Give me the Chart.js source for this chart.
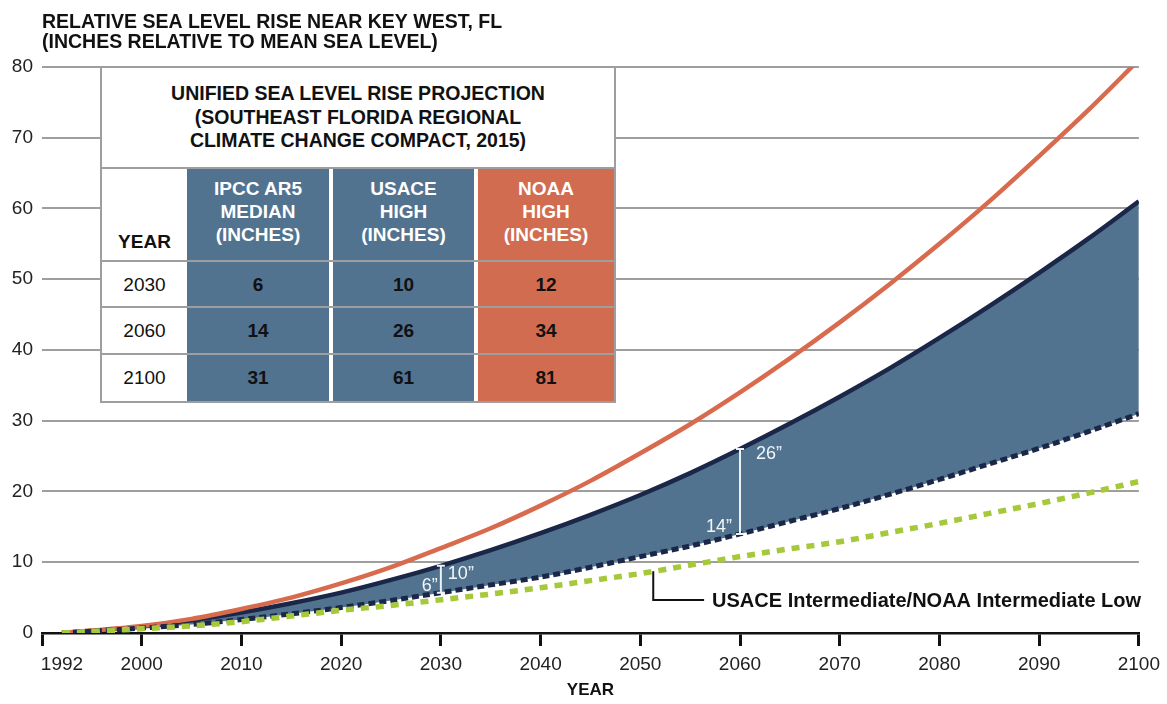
<!DOCTYPE html>
<html><head><meta charset="utf-8">
<script src="https://cdn.jsdelivr.net/npm/chart.js@4.4.0/dist/chart.umd.min.js"></script>
<style>
html,body{margin:0;padding:0;background:#fff;}
#wrap{position:relative;width:1167px;height:704px;overflow:hidden;font-family:"Liberation Sans",Arial,sans-serif;}
#c{position:absolute;left:0;top:0;}
#tbl{position:absolute;left:0;top:0;width:1167px;height:704px;pointer-events:none;}
.abs{position:absolute;box-sizing:border-box;}
.flexc{display:flex;flex-direction:column;align-items:center;justify-content:center;text-align:center;}
</style></head><body>
<div id="wrap"><canvas id="c" width="1167" height="704"></canvas><div id="tbl"></div></div>
<script>
// ---- data ----
const years      = [1992,2000,2005,2010,2015,2020,2025,2030,2035,2040,2045,2050,2055,2060,2065,2070,2075,2080,2085,2090,2095,2100];
const noaaHigh   = [0,1.0,2.0,3.4,5.0,7.0,9.3,12.0,14.8,18.0,21.5,25.4,29.5,34.0,38.8,43.9,49.3,55.0,61.0,67.4,74.0,81.0];
const usaceHigh  = [0,0.9,1.8,2.9,4.2,5.7,7.5,9.5,11.7,14.1,16.7,19.5,22.6,26.0,29.6,33.4,37.4,41.7,46.2,50.9,55.8,61.0];
const ipccMedian = [0,0.7,1.2,1.9,2.7,3.6,4.6,5.7,6.8,7.9,9.3,10.8,12.3,14.0,15.8,17.6,19.6,21.7,23.9,26.1,28.5,31.0];
const usaceInt   = [0,0.6,1.0,1.6,2.4,3.2,3.9,4.7,5.5,6.4,7.4,8.4,9.6,10.8,11.9,12.9,14.2,15.5,16.9,18.3,19.8,21.4];

const xTickYears = [1992,2000,2010,2020,2030,2040,2050,2060,2070,2080,2090,2100];
const axisStart  = 1990;
const yTickStep  = 10;
const titleLines = ['RELATIVE SEA LEVEL RISE NEAR KEY WEST, FL','(INCHES RELATIVE TO MEAN SEA LEVEL)'];
const xTitle     = 'YEAR';

const tableTitle = ['UNIFIED SEA LEVEL RISE PROJECTION','(SOUTHEAST FLORIDA REGIONAL','CLIMATE CHANGE COMPACT, 2015)'];
const tableYears = [2030,2060,2100];
const tableIpcc  = [6,14,31];
const tableUsace = [10,26,61];
const tableNoaa  = [12,34,81];
const colHeads   = [['IPCC AR5','MEDIAN','(INCHES)'],['USACE','HIGH','(INCHES)'],['NOAA','HIGH','(INCHES)']];

const leaderText = 'USACE Intermediate/NOAA Intermediate Low';

// ---- styling ----
const FAM = '"Liberation Sans", Arial, sans-serif';
const NAVY = '#1b2748', FILLBLUE = '#52738f', ORANGE = '#d86b4d', GREEN = '#a6c93c', GRID = '#9e9e9e';

const pts = arr => years.map((y,i)=>({x:y,y:arr[i]}));
function interp(arr, yr){
  for(let i=0;i<years.length-1;i++){
    if(yr>=years[i] && yr<=years[i+1]){ const f=(yr-years[i])/(years[i+1]-years[i]); return arr[i]+f*(arr[i+1]-arr[i]); }
  }
  return arr[arr.length-1];
}

// range markers (years from table, ends from the curves)
const markers = [
  {year:2030, hi:tableUsace[0], lo:tableIpcc[0], hiDx:7, hiDy:8, loDx:-3, loDy:-7},
  {year:2060, hi:tableUsace[1], lo:tableIpcc[1], hiDx:16, hiDy:5, loDx:-8, loDy:-7}
];
const leader = {year:2051.3, bottom:4.66, endYear:2056.4, textYear:2057.2};

const annot = {
  id:'annot',
  afterDatasetsDraw(chart){
    const ctx = chart.ctx, xs = chart.scales.x, ys = chart.scales.y;
    ctx.save();
    markers.forEach(m=>{
      const x = xs.getPixelForValue(m.year);
      const yT = ys.getPixelForValue(interp(usaceHigh,m.year));
      const yB = ys.getPixelForValue(interp(ipccMedian,m.year));
      ctx.strokeStyle = '#eef1f4'; ctx.lineWidth = 2;
      ctx.beginPath();
      ctx.moveTo(x,yT); ctx.lineTo(x,yB);
      ctx.moveTo(x-4,yT); ctx.lineTo(x+4,yT);
      ctx.moveTo(x-4,yB); ctx.lineTo(x+4,yB);
      ctx.stroke();
      ctx.fillStyle = '#f3f5f7'; ctx.font = '18px '+FAM; ctx.textBaseline='middle';
      ctx.textAlign='left'; ctx.fillText(m.hi+'\u201D', x+m.hiDx, yT+m.hiDy);
      ctx.textAlign='right'; ctx.fillText(m.lo+'\u201D', x+m.loDx, yB+m.loDy);
    });
    // leader line
    const lx = xs.getPixelForValue(leader.year);
    const ly0 = ys.getPixelForValue(interp(usaceInt, leader.year));
    const ly1 = ys.getPixelForValue(leader.bottom);
    const lx1 = xs.getPixelForValue(leader.endYear);
    ctx.strokeStyle = '#111'; ctx.lineWidth = 2;
    ctx.beginPath(); ctx.moveTo(lx,ly0); ctx.lineTo(lx,ly1); ctx.lineTo(lx1,ly1); ctx.stroke();
    ctx.fillStyle='#111'; ctx.font='bold 20px '+FAM; ctx.textAlign='left'; ctx.textBaseline='middle';
    ctx.fillText(leaderText, xs.getPixelForValue(leader.textYear), ly1+1);
    ctx.restore();
  }
};

new Chart(document.getElementById('c'), {
  type:'line',
  data:{datasets:[
    {label:'USACE Intermediate/NOAA Intermediate Low', data:pts(usaceInt), borderColor:GREEN, borderWidth:5.5, borderDash:[8,7], fill:false, order:0},
    {label:'IPCC AR5 Median', data:pts(ipccMedian), borderColor:NAVY, borderWidth:5, borderDash:[7,4], fill:false, order:1},
    {label:'NOAA High', data:pts(noaaHigh), borderColor:ORANGE, borderWidth:4.5, fill:false, order:2},
    {label:'USACE High', data:pts(usaceHigh), borderColor:NAVY, borderWidth:4.5, fill:{target:1}, backgroundColor:FILLBLUE, order:3}
  ]},
  options:{
    responsive:false, animation:false, devicePixelRatio:1,
    layout:{padding:{left:0,right:25,top:0,bottom:0}},
    elements:{point:{radius:0,hoverRadius:0}, line:{cubicInterpolationMode:'monotone', borderCapStyle:'butt'}},
    plugins:{
      legend:{display:false}, tooltip:{enabled:false},
      title:{display:true, text:titleLines, align:'start', fullSize:false, color:'#111',
             font:{family:FAM,size:19.5,weight:'bold',lineHeight:1.05}, padding:{top:12,bottom:14}}
    },
    scales:{
      x:{type:'linear', min:axisStart, max:2100,
         afterBuildTicks:s=>{ s.ticks=[axisStart].concat(xTickYears).map(v=>({value:v})); },
         ticks:{autoSkip:false, maxRotation:0, padding:7, color:'#222', font:{family:FAM,size:19},
                callback:v=> xTickYears.includes(v)? String(v):''},
         grid:{drawOnChartArea:false, drawTicks:true, tickLength:13, lineWidth:3,
               tickColor:c=> (c.tick && c.tick.value===xTickYears[0]) ? 'rgba(0,0,0,0)' : '#111'},
         border:{display:true,color:'#111',width:2.5},
         title:{display:true,text:xTitle,color:'#111',font:{family:FAM,size:17,weight:'bold'},padding:{top:4,bottom:3}},
         afterFit:s=>{ s.height=71; }},
      y:{min:0,max:80,
         ticks:{stepSize:yTickStep,padding:9,color:'#222',font:{family:FAM,size:19}},
         grid:{drawTicks:false,color:GRID,lineWidth:2},
         border:{display:false},
         afterFit:s=>{ s.width=42; }}
    }
  },
  plugins:[annot]
});

// ---- inset table (HTML text) ----
const tb = document.getElementById('tbl');
function box(l,t,w,h,style,html){
  const d=document.createElement('div'); d.className='abs';
  d.style.cssText='left:'+l+'px;top:'+t+'px;width:'+w+'px;height:'+h+'px;'+(style||'');
  if(html!=null) d.innerHTML=html; tb.appendChild(d); return d;
}
box(100,66,516,337,'background:#fff;border:2px solid '+GRID+';');
const bx = box(102,68,512,99,'font-weight:bold;font-size:19.5px;line-height:23.5px;color:#111;');
bx.classList.add('flexc'); bx.innerHTML = tableTitle.join('<br>');
box(100,167,516,2,'background:'+GRID+';');

const cols = [{l:187,r:329,c:FILLBLUE,v:tableIpcc},{l:333,r:474,c:FILLBLUE,v:tableUsace},{l:478,r:614,c:'#d16c50',v:tableNoaa}];
const rowTops = [262,308,355], rowH = 46;
cols.forEach((col,ci)=>{
  box(col.l,169,col.r-col.l,232,'background:'+col.c+';');
  const h = box(col.l,169,col.r-col.l,91,'padding-bottom:6px;font-weight:bold;font-size:19px;line-height:23px;color:#fff;');
  h.classList.add('flexc'); h.innerHTML = colHeads[ci].join('<br>');
  col.v.forEach((v,ri)=>{
    const d = box(col.l,rowTops[ri],col.r-col.l,rowH,'font-weight:bold;font-size:19px;color:#111;');
    d.classList.add('flexc'); d.textContent = v;
  });
});
const yh = box(102,169,85,91,'padding-bottom:7px;font-weight:bold;font-size:19px;line-height:23px;color:#111;');
yh.classList.add('flexc'); yh.style.justifyContent='flex-end'; yh.textContent='YEAR';
tableYears.forEach((y,ri)=>{
  const d = box(102,rowTops[ri],85,rowH,'font-size:19px;color:#111;'); d.classList.add('flexc'); d.textContent=y;
});
[260,306,353].forEach(y=>box(100,y,516,2,'background:'+GRID+';'));
</script>
</body></html>
